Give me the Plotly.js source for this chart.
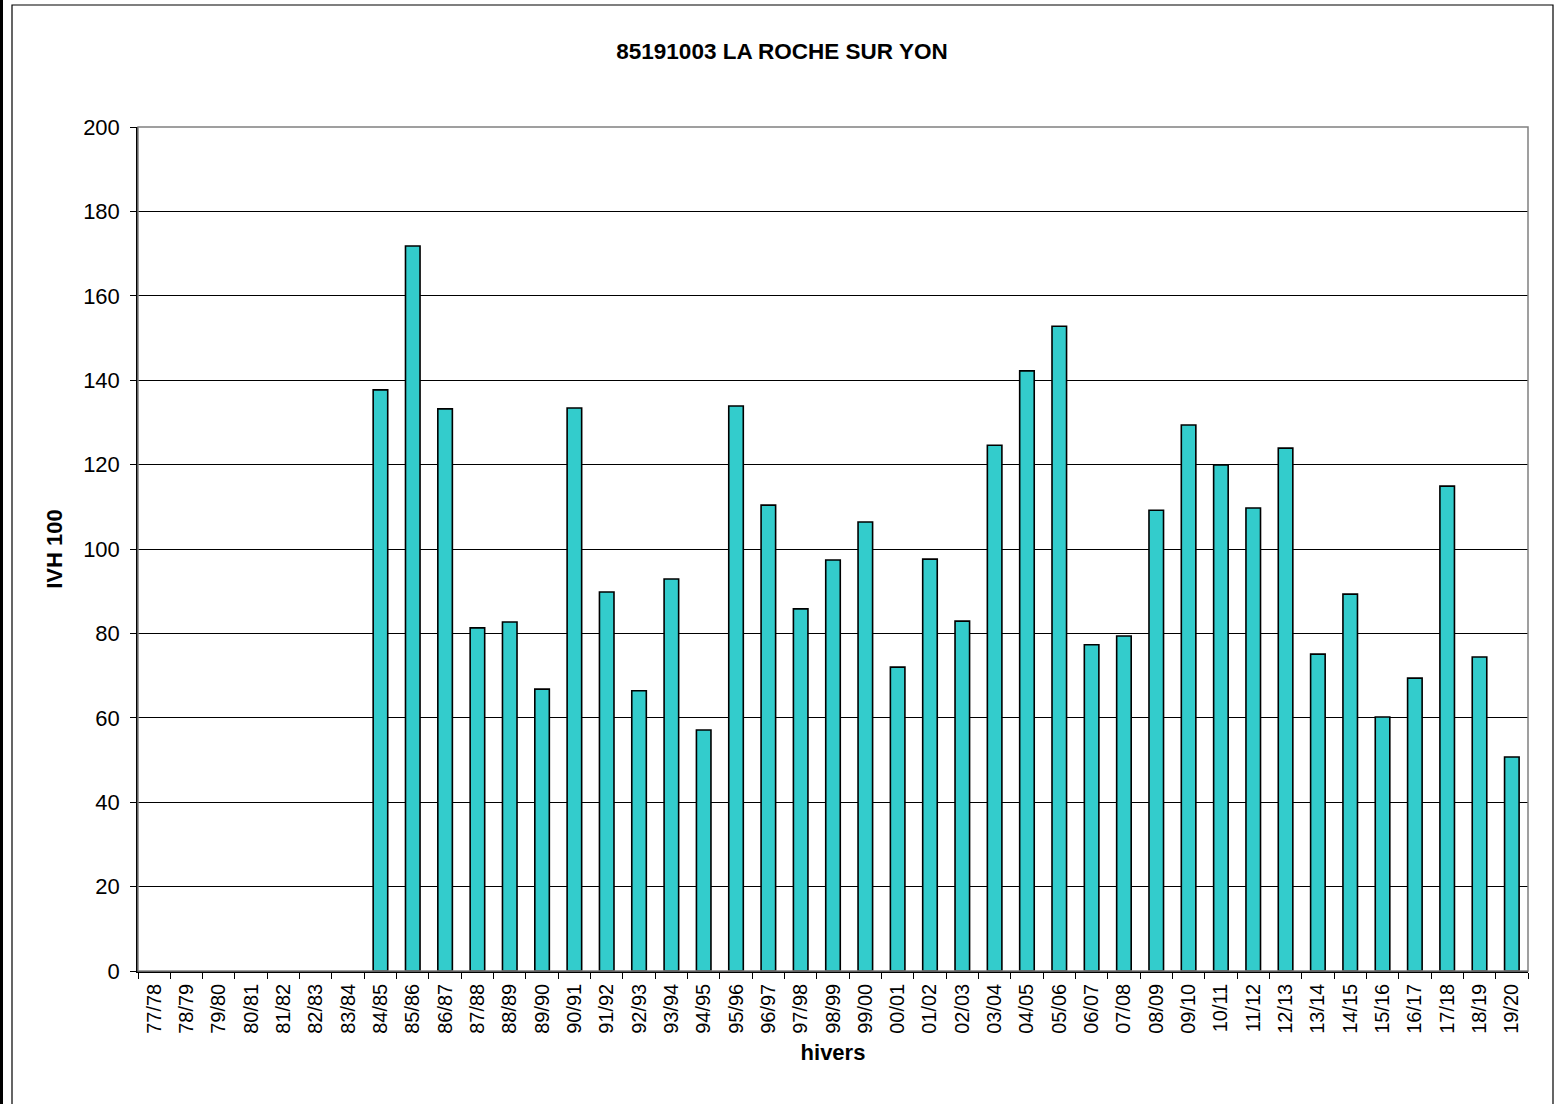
<!DOCTYPE html>
<html><head><meta charset="utf-8">
<script src="https://cdn.plot.ly/plotly-3.0.1.min.js"></script>
<style>body{margin:0;background:#fff}#c{width:1555px;height:1104px}</style>
</head><body><div id="c"></div>
<script>
const winters = ["77/78","78/79","79/80","80/81","81/82","82/83","83/84","84/85","85/86","86/87","87/88","88/89","89/90","90/91","91/92","92/93","93/94","94/95","95/96","96/97","97/98","98/99","99/00","00/01","01/02","02/03","03/04","04/05","05/06","06/07","07/08","08/09","09/10","10/11","11/12","12/13","13/14","14/15","15/16","16/17","17/18","18/19","19/20"];
const ivh100 = [null,null,null,null,null,null,null,137.7,171.8,133.2,81.3,82.7,66.8,133.4,89.8,66.4,92.9,57.1,133.9,110.4,85.8,97.4,106.4,72.0,97.6,82.9,124.6,142.2,152.8,77.3,79.4,109.2,129.4,119.9,109.7,123.9,75.1,89.3,60.2,69.4,114.9,74.4,50.7];
const yTicks = [0,20,40,60,80,100,120,140,160,180,200];

const L=138,R=1528,T=127,B=971,W=1555,H=1104;
const px=x=>(x-L)/(R-L), py=y=>(B-y)/(B-T);

Plotly.newPlot('c',[{
  type:'bar', x:winters, y:ivh100,
  width:0.45,
  marker:{color:'#33CCCC', line:{color:'#000', width:1.6}},
  hoverinfo:'x+y'
}],{
  width:W,height:H,
  margin:{l:L,r:W-R,t:T,b:H-B,pad:0},
  paper_bgcolor:'#fff',plot_bgcolor:'#fff',
  font:{family:'Liberation Sans, Arial, sans-serif',color:'#000',size:20},
  title:{text:'<b>85191003 LA ROCHE SUR YON</b>',x:782/W,xanchor:'center',y:1-51/H,yanchor:'middle',font:{size:22.5}},
  showlegend:false,
  xaxis:{
    type:'category', tickangle:-90, ticks:'outside', ticklen:6, tickcolor:'#000',
    tickson:'boundaries', showline:true, linecolor:'#000', linewidth:1.5,
    showgrid:false, tickfont:{size:20}, range:[-0.5,42.5], ticklabelstandoff:3,
    title:{text:'<b>hivers</b>',font:{size:22},standoff:12}
  },
  yaxis:{
    range:[0,200], tickvals:yTicks, ticktext:yTicks.map(String), ticks:'outside', ticklen:6, tickcolor:'#000',
    showline:true, linecolor:'#000', linewidth:1.5, gridcolor:'#000', gridwidth:1,
    zeroline:false, tickfont:{size:22}, ticklabelstandoff:6,
    title:{text:'<b>IVH 100</b>',font:{size:22},standoff:14}
  },
  shapes:[
    {type:'rect',xref:'paper',yref:'paper',x0:0,x1:1,y0:0,y1:1,line:{color:'#808080',width:1.5},fillcolor:'rgba(0,0,0,0)'},
    {type:'rect',xref:'paper',yref:'paper',x0:px(12),x1:px(1553),y0:py(1112),y1:py(5),line:{color:'#000',width:1.2},fillcolor:'rgba(0,0,0,0)'},
    {type:'rect',xref:'paper',yref:'paper',x0:px(0),x1:px(3),y0:py(1104),y1:py(0),line:{width:0},fillcolor:'#000'}
  ]
},{displayModeBar:false});
</script></body></html>
